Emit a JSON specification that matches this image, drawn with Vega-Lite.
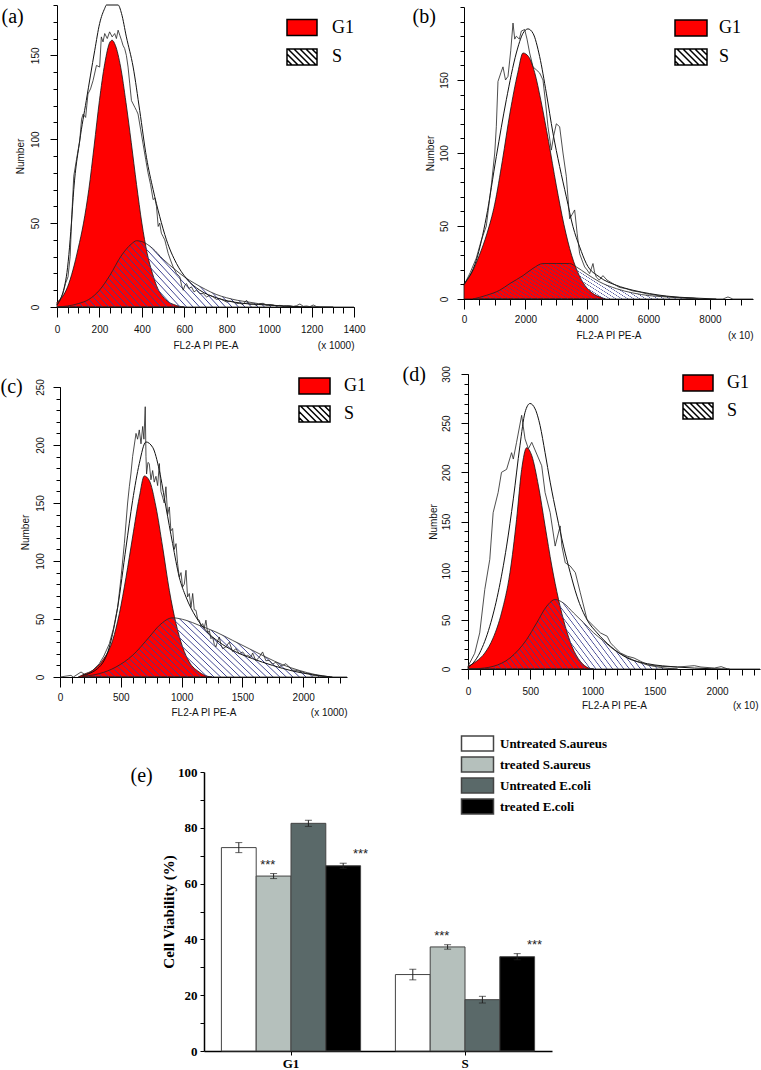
{
"$schema": "https://vega.github.io/schema/vega-lite/v6.json",
"width": 761, "height": 1070,
"autosize": {"type": "none"},
"padding": 0,
"background": "white",
"config": {
 "view": {"stroke": null},
 "axis": {"grid": false, "domainColor": "#000", "tickColor": "#000", "labelColor": "#111", "titleColor": "#111", "labelFont": "Liberation Sans", "labelFontSize": 10, "titleFont": "Liberation Sans", "titleFontSize": 10, "titleFontWeight": "normal", "labelFlush": false, "labelOverlap": false, "domainWidth": 1, "tickWidth": 1},
 "legend": {"labelLimit": 300},
 "area": {"fill": {"gradient": "linear", "x1": 0, "y1": 1, "x2": 1.25, "y2": 0.6875, "stops": [
{"offset":0,"color":"#3c4090"},{"offset":0.003,"color":"#3c409000"},{"offset":0.017,"color":"#3c409000"},
{"offset":0.02,"color":"#3c4090"},{"offset":0.023,"color":"#3c409000"},{"offset":0.037,"color":"#3c409000"},
{"offset":0.04,"color":"#3c4090"},{"offset":0.043,"color":"#3c409000"},{"offset":0.057,"color":"#3c409000"},
{"offset":0.06,"color":"#3c4090"},{"offset":0.063,"color":"#3c409000"},{"offset":0.077,"color":"#3c409000"},
{"offset":0.08,"color":"#3c4090"},{"offset":0.083,"color":"#3c409000"},{"offset":0.097,"color":"#3c409000"},
{"offset":0.1,"color":"#3c4090"},{"offset":0.103,"color":"#3c409000"},{"offset":0.117,"color":"#3c409000"},
{"offset":0.12,"color":"#3c4090"},{"offset":0.123,"color":"#3c409000"},{"offset":0.137,"color":"#3c409000"},
{"offset":0.14,"color":"#3c4090"},{"offset":0.143,"color":"#3c409000"},{"offset":0.157,"color":"#3c409000"},
{"offset":0.16,"color":"#3c4090"},{"offset":0.163,"color":"#3c409000"},{"offset":0.177,"color":"#3c409000"},
{"offset":0.18,"color":"#3c4090"},{"offset":0.183,"color":"#3c409000"},{"offset":0.197,"color":"#3c409000"},
{"offset":0.2,"color":"#3c4090"},{"offset":0.203,"color":"#3c409000"},{"offset":0.217,"color":"#3c409000"},
{"offset":0.22,"color":"#3c4090"},{"offset":0.223,"color":"#3c409000"},{"offset":0.237,"color":"#3c409000"},
{"offset":0.24,"color":"#3c4090"},{"offset":0.243,"color":"#3c409000"},{"offset":0.257,"color":"#3c409000"},
{"offset":0.26,"color":"#3c4090"},{"offset":0.263,"color":"#3c409000"},{"offset":0.277,"color":"#3c409000"},
{"offset":0.28,"color":"#3c4090"},{"offset":0.283,"color":"#3c409000"},{"offset":0.297,"color":"#3c409000"},
{"offset":0.3,"color":"#3c4090"},{"offset":0.303,"color":"#3c409000"},{"offset":0.317,"color":"#3c409000"},
{"offset":0.32,"color":"#3c4090"},{"offset":0.323,"color":"#3c409000"},{"offset":0.337,"color":"#3c409000"},
{"offset":0.34,"color":"#3c4090"},{"offset":0.343,"color":"#3c409000"},{"offset":0.357,"color":"#3c409000"},
{"offset":0.36,"color":"#3c4090"},{"offset":0.363,"color":"#3c409000"},{"offset":0.377,"color":"#3c409000"},
{"offset":0.38,"color":"#3c4090"},{"offset":0.383,"color":"#3c409000"},{"offset":0.397,"color":"#3c409000"},
{"offset":0.4,"color":"#3c4090"},{"offset":0.403,"color":"#3c409000"},{"offset":0.417,"color":"#3c409000"},
{"offset":0.42,"color":"#3c4090"},{"offset":0.423,"color":"#3c409000"},{"offset":0.437,"color":"#3c409000"},
{"offset":0.44,"color":"#3c4090"},{"offset":0.443,"color":"#3c409000"},{"offset":0.457,"color":"#3c409000"},
{"offset":0.46,"color":"#3c4090"},{"offset":0.463,"color":"#3c409000"},{"offset":0.477,"color":"#3c409000"},
{"offset":0.48,"color":"#3c4090"},{"offset":0.483,"color":"#3c409000"},{"offset":0.497,"color":"#3c409000"},
{"offset":0.5,"color":"#3c4090"},{"offset":0.503,"color":"#3c409000"},{"offset":0.517,"color":"#3c409000"},
{"offset":0.52,"color":"#3c4090"},{"offset":0.523,"color":"#3c409000"},{"offset":0.537,"color":"#3c409000"},
{"offset":0.54,"color":"#3c4090"},{"offset":0.543,"color":"#3c409000"},{"offset":0.557,"color":"#3c409000"},
{"offset":0.56,"color":"#3c4090"},{"offset":0.563,"color":"#3c409000"},{"offset":0.577,"color":"#3c409000"},
{"offset":0.58,"color":"#3c4090"},{"offset":0.583,"color":"#3c409000"},{"offset":0.597,"color":"#3c409000"},
{"offset":0.6,"color":"#3c4090"},{"offset":0.603,"color":"#3c409000"},{"offset":0.617,"color":"#3c409000"},
{"offset":0.62,"color":"#3c4090"},{"offset":0.623,"color":"#3c409000"},{"offset":0.637,"color":"#3c409000"},
{"offset":0.64,"color":"#3c4090"},{"offset":0.643,"color":"#3c409000"},{"offset":0.657,"color":"#3c409000"},
{"offset":0.66,"color":"#3c4090"},{"offset":0.663,"color":"#3c409000"},{"offset":0.677,"color":"#3c409000"},
{"offset":0.68,"color":"#3c4090"},{"offset":0.683,"color":"#3c409000"},{"offset":0.697,"color":"#3c409000"},
{"offset":0.7,"color":"#3c4090"},{"offset":0.703,"color":"#3c409000"},{"offset":0.717,"color":"#3c409000"},
{"offset":0.72,"color":"#3c4090"},{"offset":0.723,"color":"#3c409000"},{"offset":0.737,"color":"#3c409000"},
{"offset":0.74,"color":"#3c4090"},{"offset":0.743,"color":"#3c409000"},{"offset":0.757,"color":"#3c409000"},
{"offset":0.76,"color":"#3c4090"},{"offset":0.763,"color":"#3c409000"},{"offset":0.777,"color":"#3c409000"},
{"offset":0.78,"color":"#3c4090"},{"offset":0.783,"color":"#3c409000"},{"offset":0.797,"color":"#3c409000"},
{"offset":0.8,"color":"#3c4090"},{"offset":0.803,"color":"#3c409000"},{"offset":0.817,"color":"#3c409000"},
{"offset":0.82,"color":"#3c4090"},{"offset":0.823,"color":"#3c409000"},{"offset":0.837,"color":"#3c409000"},
{"offset":0.84,"color":"#3c4090"},{"offset":0.843,"color":"#3c409000"},{"offset":0.857,"color":"#3c409000"},
{"offset":0.86,"color":"#3c4090"},{"offset":0.863,"color":"#3c409000"},{"offset":0.877,"color":"#3c409000"},
{"offset":0.88,"color":"#3c4090"},{"offset":0.883,"color":"#3c409000"},{"offset":0.897,"color":"#3c409000"},
{"offset":0.9,"color":"#3c4090"},{"offset":0.903,"color":"#3c409000"},{"offset":0.917,"color":"#3c409000"},
{"offset":0.92,"color":"#3c4090"},{"offset":0.923,"color":"#3c409000"},{"offset":0.937,"color":"#3c409000"},
{"offset":0.94,"color":"#3c4090"},{"offset":0.943,"color":"#3c409000"},{"offset":0.957,"color":"#3c409000"},
{"offset":0.96,"color":"#3c4090"},{"offset":0.963,"color":"#3c409000"},{"offset":0.977,"color":"#3c409000"},
{"offset":0.98,"color":"#3c4090"},{"offset":0.983,"color":"#3c409000"},{"offset":0.997,"color":"#3c409000"},
{"offset":1,"color":"#3c4090"}]}}
},
"datasets": {
"a": [
{"series":"G1","x":0,"y":3},{"series":"G1","x":25,"y":6},{"series":"G1","x":50,"y":12},{"series":"G1","x":75,"y":22},{"series":"G1","x":100,"y":35},{"series":"G1","x":125,"y":50},{"series":"G1","x":150,"y":70},{"series":"G1","x":175,"y":96},{"series":"G1","x":200,"y":123},{"series":"G1","x":225,"y":145},{"series":"G1","x":250,"y":158},{"series":"G1","x":260,"y":159},{"series":"G1","x":275,"y":156},{"series":"G1","x":300,"y":143},{"series":"G1","x":325,"y":122},{"series":"G1","x":350,"y":98},{"series":"G1","x":375,"y":73},{"series":"G1","x":400,"y":50},{"series":"G1","x":425,"y":32},{"series":"G1","x":450,"y":20},{"series":"G1","x":475,"y":11},{"series":"G1","x":500,"y":6},{"series":"G1","x":525,"y":3},{"series":"G1","x":550,"y":1.5},{"series":"G1","x":575,"y":0.5},{"series":"G1","x":600,"y":0},
{"series":"S","x":0,"y":0},{"series":"S","x":50,"y":0.6},{"series":"S","x":100,"y":2},{"series":"S","x":150,"y":4.5},{"series":"S","x":200,"y":10},{"series":"S","x":250,"y":19},{"series":"S","x":300,"y":30},{"series":"S","x":350,"y":37.5},{"series":"S","x":375,"y":39.5},{"series":"S","x":400,"y":39},{"series":"S","x":450,"y":35},{"series":"S","x":500,"y":28.5},{"series":"S","x":550,"y":23},{"series":"S","x":600,"y":18},{"series":"S","x":650,"y":14},{"series":"S","x":700,"y":10.5},{"series":"S","x":750,"y":7.5},{"series":"S","x":800,"y":5.5},{"series":"S","x":850,"y":4},{"series":"S","x":900,"y":3},{"series":"S","x":950,"y":2},{"series":"S","x":1000,"y":1.3},{"series":"S","x":1050,"y":0.7},{"series":"S","x":1100,"y":0.3},{"series":"S","x":1150,"y":0},
{"series":"fit","x":0,"y":1.2},{"series":"fit","x":44,"y":18},{"series":"fit","x":68,"y":50},{"series":"fit","x":79,"y":70},{"series":"fit","x":107,"y":99},{"series":"fit","x":138,"y":123},{"series":"fit","x":178,"y":153},{"series":"fit","x":201,"y":169},{"series":"fit","x":225,"y":178},{"series":"fit","x":233,"y":180},{"series":"fit","x":288,"y":180},{"series":"fit","x":304,"y":175},{"series":"fit","x":327,"y":161},{"series":"fit","x":359,"y":143},{"series":"fit","x":390,"y":117},{"series":"fit","x":422,"y":89},{"series":"fit","x":453,"y":70},{"series":"fit","x":484,"y":54},{"series":"fit","x":516,"y":40},{"series":"fit","x":563,"y":26},{"series":"fit","x":610,"y":17},{"series":"fit","x":673,"y":10},{"series":"fit","x":752,"y":5.5},{"series":"fit","x":830,"y":3},{"series":"fit","x":988,"y":1.2},{"series":"fit","x":1145,"y":0.2},{"series":"fit","x":1302,"y":0},
{"series":"raw","x":0,"y":1.2},{"series":"raw","x":14,"y":4},{"series":"raw","x":28,"y":8},{"series":"raw","x":40,"y":14},{"series":"raw","x":52,"y":18},{"series":"raw","x":62,"y":30},{"series":"raw","x":70,"y":55},{"series":"raw","x":79,"y":78},{"series":"raw","x":92,"y":88},{"series":"raw","x":107,"y":99},{"series":"raw","x":116,"y":112},{"series":"raw","x":123,"y":115},{"series":"raw","x":135,"y":113},{"series":"raw","x":146,"y":127},{"series":"raw","x":158,"y":130},{"series":"raw","x":170,"y":135},{"series":"raw","x":186,"y":144},{"series":"raw","x":201,"y":143},{"series":"raw","x":209,"y":161},{"series":"raw","x":217,"y":158},{"series":"raw","x":225,"y":163},{"series":"raw","x":237,"y":160},{"series":"raw","x":248,"y":164},{"series":"raw","x":260,"y":161},{"series":"raw","x":272,"y":163},{"series":"raw","x":280,"y":160},{"series":"raw","x":288,"y":165},{"series":"raw","x":296,"y":162},{"series":"raw","x":304,"y":159},{"series":"raw","x":311,"y":156},{"series":"raw","x":319,"y":154},{"series":"raw","x":327,"y":150},{"series":"raw","x":335,"y":143},{"series":"raw","x":343,"y":133},{"series":"raw","x":351,"y":123},{"series":"raw","x":359,"y":121},{"series":"raw","x":367,"y":119},{"series":"raw","x":375,"y":117},{"series":"raw","x":382,"y":115},{"series":"raw","x":394,"y":106},{"series":"raw","x":406,"y":97},{"series":"raw","x":418,"y":88},{"series":"raw","x":429,"y":80},{"series":"raw","x":441,"y":73},{"series":"raw","x":453,"y":64},{"series":"raw","x":461,"y":65},{"series":"raw","x":469,"y":60},{"series":"raw","x":477,"y":48},{"series":"raw","x":484,"y":50},{"series":"raw","x":492,"y":44},{"series":"raw","x":500,"y":42},{"series":"raw","x":508,"y":40},{"series":"raw","x":516,"y":36},{"series":"raw","x":524,"y":32},{"series":"raw","x":535,"y":28},{"series":"raw","x":547,"y":24},{"series":"raw","x":563,"y":20},{"series":"raw","x":579,"y":18},{"series":"raw","x":587,"y":13},{"series":"raw","x":595,"y":10},{"series":"raw","x":603,"y":13},{"series":"raw","x":610,"y":14},{"series":"raw","x":622,"y":11},{"series":"raw","x":634,"y":12},{"series":"raw","x":646,"y":9},{"series":"raw","x":657,"y":10},{"series":"raw","x":673,"y":8},{"series":"raw","x":689,"y":8},{"series":"raw","x":705,"y":6},{"series":"raw","x":720,"y":7},{"series":"raw","x":736,"y":6},{"series":"raw","x":752,"y":4.5},{"series":"raw","x":768,"y":5},{"series":"raw","x":783,"y":4},{"series":"raw","x":799,"y":3},{"series":"raw","x":815,"y":3.5},{"series":"raw","x":830,"y":3.2},{"series":"raw","x":846,"y":2},{"series":"raw","x":862,"y":2.2},{"series":"raw","x":877,"y":1.5},{"series":"raw","x":893,"y":4},{"series":"raw","x":909,"y":1.5},{"series":"raw","x":925,"y":1.8},{"series":"raw","x":940,"y":1},{"series":"raw","x":956,"y":2},{"series":"raw","x":972,"y":2.2},{"series":"raw","x":988,"y":1},{"series":"raw","x":1003,"y":1.5},{"series":"raw","x":1019,"y":1.2},{"series":"raw","x":1035,"y":0.5},{"series":"raw","x":1051,"y":1},{"series":"raw","x":1066,"y":0.5},{"series":"raw","x":1082,"y":0.8},{"series":"raw","x":1098,"y":0.8},{"series":"raw","x":1114,"y":0.3},{"series":"raw","x":1129,"y":0.8},{"series":"raw","x":1145,"y":1.8},{"series":"raw","x":1161,"y":0.4},{"series":"raw","x":1177,"y":0.6},{"series":"raw","x":1192,"y":0.2},{"series":"raw","x":1208,"y":1.2},{"series":"raw","x":1224,"y":0.2},{"series":"raw","x":1240,"y":0},{"series":"raw","x":1400,"y":0}
],
"b": [
{"series":"G1","x":0,"y":10},{"series":"G1","x":250,"y":18},{"series":"G1","x":500,"y":30},{"series":"G1","x":750,"y":45},{"series":"G1","x":1000,"y":65},{"series":"G1","x":1250,"y":95},{"series":"G1","x":1500,"y":128},{"series":"G1","x":1750,"y":155},{"series":"G1","x":1919,"y":168.5},{"series":"G1","x":2100,"y":166},{"series":"G1","x":2300,"y":155},{"series":"G1","x":2500,"y":136},{"series":"G1","x":2750,"y":108},{"series":"G1","x":3000,"y":78},{"series":"G1","x":3250,"y":51},{"series":"G1","x":3500,"y":30},{"series":"G1","x":3750,"y":16},{"series":"G1","x":4000,"y":7.5},{"series":"G1","x":4250,"y":3},{"series":"G1","x":4500,"y":0.8},{"series":"G1","x":4600,"y":0},
{"series":"S","x":290,"y":0},{"series":"S","x":726,"y":2.5},{"series":"S","x":1160,"y":6},{"series":"S","x":1485,"y":10.5},{"series":"S","x":1919,"y":16},{"series":"S","x":2244,"y":21},{"series":"S","x":2569,"y":24.3},{"series":"S","x":3000,"y":24.3},{"series":"S","x":3436,"y":24.3},{"series":"S","x":3653,"y":22},{"series":"S","x":3978,"y":17.4},{"series":"S","x":4412,"y":11.7},{"series":"S","x":4954,"y":7.1},{"series":"S","x":5496,"y":4.1},{"series":"S","x":6038,"y":2.3},{"series":"S","x":6580,"y":1.4},{"series":"S","x":7122,"y":0.7},{"series":"S","x":7447,"y":0.2},{"series":"S","x":7600,"y":0},
{"series":"fit","x":0,"y":10.5},{"series":"fit","x":400,"y":26.5},{"series":"fit","x":726,"y":56},{"series":"fit","x":1051,"y":97.6},{"series":"fit","x":1377,"y":136.5},{"series":"fit","x":1702,"y":168.5},{"series":"fit","x":1919,"y":182},{"series":"fit","x":2081,"y":185},{"series":"fit","x":2244,"y":182},{"series":"fit","x":2461,"y":166},{"series":"fit","x":2678,"y":141},{"series":"fit","x":2894,"y":113.6},{"series":"fit","x":3111,"y":90.7},{"series":"fit","x":3328,"y":70},{"series":"fit","x":3545,"y":49.5},{"series":"fit","x":3762,"y":35.7},{"series":"fit","x":3978,"y":24.3},{"series":"fit","x":4412,"y":15},{"series":"fit","x":4954,"y":9.4},{"series":"fit","x":5496,"y":6},{"series":"fit","x":6038,"y":3.7},{"series":"fit","x":6580,"y":2},{"series":"fit","x":7447,"y":0.7},{"series":"fit","x":8206,"y":0},
{"series":"raw","x":0,"y":9.4},{"series":"raw","x":200,"y":18},{"series":"raw","x":400,"y":28},{"series":"raw","x":560,"y":40},{"series":"raw","x":726,"y":50},{"series":"raw","x":900,"y":80},{"series":"raw","x":1000,"y":100},{"series":"raw","x":1051,"y":118},{"series":"raw","x":1105,"y":149},{"series":"raw","x":1200,"y":155},{"series":"raw","x":1268,"y":159},{"series":"raw","x":1350,"y":150},{"series":"raw","x":1431,"y":152.5},{"series":"raw","x":1520,"y":170},{"series":"raw","x":1594,"y":189},{"series":"raw","x":1650,"y":178},{"series":"raw","x":1702,"y":180},{"series":"raw","x":1800,"y":178},{"series":"raw","x":1865,"y":183.5},{"series":"raw","x":1973,"y":184.6},{"series":"raw","x":2050,"y":178},{"series":"raw","x":2136,"y":168.5},{"series":"raw","x":2244,"y":159},{"series":"raw","x":2350,"y":157},{"series":"raw","x":2461,"y":154.8},{"series":"raw","x":2569,"y":150},{"series":"raw","x":2650,"y":135},{"series":"raw","x":2732,"y":118},{"series":"raw","x":2840,"y":102},{"series":"raw","x":2920,"y":112},{"series":"raw","x":3003,"y":120},{"series":"raw","x":3111,"y":118},{"series":"raw","x":3220,"y":100},{"series":"raw","x":3328,"y":84},{"series":"raw","x":3436,"y":55},{"series":"raw","x":3520,"y":58},{"series":"raw","x":3599,"y":61},{"series":"raw","x":3680,"y":45},{"series":"raw","x":3762,"y":31},{"series":"raw","x":3850,"y":26},{"series":"raw","x":3924,"y":22},{"series":"raw","x":4000,"y":20},{"series":"raw","x":4087,"y":17.4},{"series":"raw","x":4195,"y":24.3},{"series":"raw","x":4250,"y":18},{"series":"raw","x":4304,"y":15},{"series":"raw","x":4400,"y":13},{"series":"raw","x":4520,"y":16},{"series":"raw","x":4650,"y":13},{"series":"raw","x":4846,"y":10.5},{"series":"raw","x":5050,"y":8},{"series":"raw","x":5280,"y":7},{"series":"raw","x":5500,"y":5.5},{"series":"raw","x":5713,"y":4.8},{"series":"raw","x":5950,"y":3.5},{"series":"raw","x":6147,"y":3},{"series":"raw","x":6350,"y":2.2},{"series":"raw","x":6580,"y":1.8},{"series":"raw","x":6850,"y":1.2},{"series":"raw","x":7122,"y":0.9},{"series":"raw","x":7447,"y":0.7},{"series":"raw","x":7664,"y":0},{"series":"raw","x":8423,"y":0},{"series":"raw","x":8586,"y":1.4},{"series":"raw","x":8748,"y":0},{"series":"raw","x":9400,"y":0}
],
"c": [
{"series":"G1","x":150,"y":0},{"series":"G1","x":200,"y":2.5},{"series":"G1","x":268,"y":5.7},{"series":"G1","x":351,"y":14.4},{"series":"G1","x":433,"y":31.6},{"series":"G1","x":488,"y":54.6},{"series":"G1","x":543,"y":86},{"series":"G1","x":597,"y":120.7},{"series":"G1","x":652,"y":155},{"series":"G1","x":693,"y":173.3},{"series":"G1","x":734,"y":169.5},{"series":"G1","x":789,"y":146.6},{"series":"G1","x":844,"y":112},{"series":"G1","x":899,"y":74.7},{"series":"G1","x":954,"y":46},{"series":"G1","x":1008,"y":25.9},{"series":"G1","x":1063,"y":13},{"series":"G1","x":1145,"y":4.3},{"series":"G1","x":1214,"y":0.6},{"series":"G1","x":1250,"y":0},
{"series":"S","x":186,"y":0.6},{"series":"S","x":323,"y":2.9},{"series":"S","x":460,"y":8.6},{"series":"S","x":597,"y":18.7},{"series":"S","x":734,"y":34.5},{"series":"S","x":817,"y":44.5},{"series":"S","x":926,"y":51},{"series":"S","x":1036,"y":48.9},{"series":"S","x":1145,"y":44.5},{"series":"S","x":1282,"y":38.8},{"series":"S","x":1419,"y":31.6},{"series":"S","x":1556,"y":24.4},{"series":"S","x":1693,"y":17.2},{"series":"S","x":1830,"y":10.6},{"series":"S","x":1967,"y":5.7},{"series":"S","x":2104,"y":2},{"series":"S","x":2186,"y":0.6},{"series":"S","x":2220,"y":0},
{"series":"fit","x":186,"y":1.4},{"series":"fit","x":323,"y":8.6},{"series":"fit","x":406,"y":25.9},{"series":"fit","x":474,"y":60},{"series":"fit","x":543,"y":112},{"series":"fit","x":597,"y":152},{"series":"fit","x":652,"y":184},{"series":"fit","x":707,"y":202.6},{"series":"fit","x":762,"y":198},{"series":"fit","x":817,"y":178},{"series":"fit","x":871,"y":146.6},{"series":"fit","x":926,"y":115},{"series":"fit","x":981,"y":86},{"series":"fit","x":1036,"y":69},{"series":"fit","x":1118,"y":51.7},{"series":"fit","x":1200,"y":40},{"series":"fit","x":1310,"y":30},{"series":"fit","x":1419,"y":23},{"series":"fit","x":1584,"y":15.8},{"series":"fit","x":1748,"y":10},{"series":"fit","x":1912,"y":5.2},{"series":"fit","x":2077,"y":2},{"series":"fit","x":2241,"y":0},
{"series":"raw","x":0,"y":0},{"series":"raw","x":90,"y":1.4},{"series":"raw","x":110,"y":0},{"series":"raw","x":173,"y":4.3},{"series":"raw","x":214,"y":1.4},{"series":"raw","x":269,"y":5.7},{"series":"raw","x":323,"y":11.5},{"series":"raw","x":360,"y":18},{"series":"raw","x":406,"y":28.7},{"series":"raw","x":440,"y":42},{"series":"raw","x":474,"y":60},{"series":"raw","x":501,"y":85},{"series":"raw","x":529,"y":115},{"series":"raw","x":556,"y":150},{"series":"raw","x":570,"y":164},{"series":"raw","x":583,"y":175},{"series":"raw","x":597,"y":190},{"series":"raw","x":611,"y":200},{"series":"raw","x":625,"y":210},{"series":"raw","x":638,"y":205},{"series":"raw","x":652,"y":213},{"series":"raw","x":666,"y":201},{"series":"raw","x":680,"y":216},{"series":"raw","x":690,"y":205},{"series":"raw","x":701,"y":233},{"series":"raw","x":707,"y":190},{"series":"raw","x":712,"y":175},{"series":"raw","x":723,"y":185},{"series":"raw","x":734,"y":184},{"series":"raw","x":748,"y":170},{"series":"raw","x":762,"y":178},{"series":"raw","x":775,"y":168},{"series":"raw","x":789,"y":173},{"series":"raw","x":803,"y":165},{"series":"raw","x":817,"y":184},{"series":"raw","x":830,"y":160},{"series":"raw","x":844,"y":155},{"series":"raw","x":857,"y":150},{"series":"raw","x":871,"y":164},{"series":"raw","x":885,"y":140},{"series":"raw","x":899,"y":146.6},{"series":"raw","x":912,"y":126},{"series":"raw","x":926,"y":128},{"series":"raw","x":940,"y":110},{"series":"raw","x":954,"y":115},{"series":"raw","x":967,"y":97.7},{"series":"raw","x":981,"y":86},{"series":"raw","x":995,"y":90},{"series":"raw","x":1008,"y":77.6},{"series":"raw","x":1022,"y":80},{"series":"raw","x":1036,"y":92},{"series":"raw","x":1049,"y":69},{"series":"raw","x":1063,"y":72},{"series":"raw","x":1077,"y":60},{"series":"raw","x":1091,"y":72},{"series":"raw","x":1104,"y":58},{"series":"raw","x":1118,"y":57.5},{"series":"raw","x":1132,"y":50},{"series":"raw","x":1145,"y":49},{"series":"raw","x":1159,"y":44},{"series":"raw","x":1173,"y":46},{"series":"raw","x":1186,"y":42},{"series":"raw","x":1200,"y":49},{"series":"raw","x":1214,"y":38},{"series":"raw","x":1228,"y":40},{"series":"raw","x":1241,"y":33},{"series":"raw","x":1255,"y":34.5},{"series":"raw","x":1269,"y":28},{"series":"raw","x":1282,"y":25.9},{"series":"raw","x":1296,"y":31},{"series":"raw","x":1310,"y":34.5},{"series":"raw","x":1323,"y":28},{"series":"raw","x":1337,"y":24.4},{"series":"raw","x":1364,"y":26},{"series":"raw","x":1392,"y":30},{"series":"raw","x":1419,"y":22},{"series":"raw","x":1447,"y":24.4},{"series":"raw","x":1474,"y":20},{"series":"raw","x":1502,"y":21.6},{"series":"raw","x":1529,"y":18},{"series":"raw","x":1543,"y":18.7},{"series":"raw","x":1570,"y":17},{"series":"raw","x":1584,"y":20.7},{"series":"raw","x":1611,"y":14},{"series":"raw","x":1639,"y":17.2},{"series":"raw","x":1666,"y":21.6},{"series":"raw","x":1693,"y":14},{"series":"raw","x":1721,"y":14.4},{"series":"raw","x":1748,"y":11},{"series":"raw","x":1776,"y":12.9},{"series":"raw","x":1803,"y":9},{"series":"raw","x":1830,"y":10},{"series":"raw","x":1858,"y":11.5},{"series":"raw","x":1885,"y":8.6},{"series":"raw","x":1912,"y":6},{"series":"raw","x":1940,"y":5.7},{"series":"raw","x":1967,"y":5},{"series":"raw","x":1995,"y":4.3},{"series":"raw","x":2022,"y":3},{"series":"raw","x":2050,"y":2.9},{"series":"raw","x":2077,"y":1.5},{"series":"raw","x":2104,"y":1.4},{"series":"raw","x":2150,"y":0.5},{"series":"raw","x":2241,"y":0},{"series":"raw","x":2360,"y":0}
],
"d": [
{"series":"G1","x":0,"y":2.7},{"series":"G1","x":67,"y":7.8},{"series":"G1","x":135,"y":16.3},{"series":"G1","x":202,"y":31.6},{"series":"G1","x":269,"y":57},{"series":"G1","x":337,"y":98},{"series":"G1","x":390,"y":152},{"series":"G1","x":431,"y":203},{"series":"G1","x":471,"y":225},{"series":"G1","x":512,"y":217},{"series":"G1","x":566,"y":186},{"series":"G1","x":619,"y":145.5},{"series":"G1","x":673,"y":104.7},{"series":"G1","x":727,"y":70.7},{"series":"G1","x":781,"y":43.5},{"series":"G1","x":835,"y":23},{"series":"G1","x":902,"y":7.8},{"series":"G1","x":970,"y":1},{"series":"G1","x":1010,"y":0},
{"series":"S","x":0,"y":0},{"series":"S","x":67,"y":0.3},{"series":"S","x":202,"y":2.7},{"series":"S","x":337,"y":11.2},{"series":"S","x":471,"y":30},{"series":"S","x":552,"y":47},{"series":"S","x":633,"y":64},{"series":"S","x":700,"y":70.7},{"series":"S","x":767,"y":67},{"series":"S","x":848,"y":57},{"series":"S","x":929,"y":47},{"series":"S","x":1010,"y":36.7},{"series":"S","x":1091,"y":28.2},{"series":"S","x":1171,"y":19.7},{"series":"S","x":1279,"y":12},{"series":"S","x":1387,"y":6.1},{"series":"S","x":1495,"y":2.7},{"series":"S","x":1602,"y":0.7},{"series":"S","x":1683,"y":0},
{"series":"fit","x":0,"y":1},{"series":"fit","x":94,"y":16.3},{"series":"fit","x":175,"y":43.5},{"series":"fit","x":242,"y":77.5},{"series":"fit","x":310,"y":125},{"series":"fit","x":364,"y":173},{"series":"fit","x":417,"y":227},{"series":"fit","x":458,"y":261},{"series":"fit","x":498,"y":270},{"series":"fit","x":539,"y":264.5},{"series":"fit","x":579,"y":247.5},{"series":"fit","x":619,"y":220},{"series":"fit","x":660,"y":190},{"series":"fit","x":714,"y":155.7},{"series":"fit","x":767,"y":125},{"series":"fit","x":821,"y":98},{"series":"fit","x":875,"y":74},{"series":"fit","x":956,"y":50},{"series":"fit","x":1037,"y":36.7},{"series":"fit","x":1145,"y":23},{"series":"fit","x":1279,"y":11.2},{"series":"fit","x":1441,"y":5.4},{"series":"fit","x":1683,"y":2},{"series":"fit","x":1952,"y":0.3},{"series":"fit","x":2100,"y":0},
{"series":"raw","x":0,"y":2.7},{"series":"raw","x":54,"y":16},{"series":"raw","x":94,"y":36.7},{"series":"raw","x":135,"y":81},{"series":"raw","x":175,"y":111.5},{"series":"raw","x":202,"y":159},{"series":"raw","x":242,"y":179.5},{"series":"raw","x":269,"y":200},{"series":"raw","x":310,"y":203},{"series":"raw","x":350,"y":220},{"series":"raw","x":364,"y":213.5},{"series":"raw","x":390,"y":230.5},{"series":"raw","x":431,"y":258},{"series":"raw","x":458,"y":234},{"series":"raw","x":485,"y":224},{"series":"raw","x":512,"y":230.5},{"series":"raw","x":552,"y":218.6},{"series":"raw","x":592,"y":206.7},{"series":"raw","x":619,"y":179.5},{"series":"raw","x":660,"y":159},{"series":"raw","x":700,"y":125},{"series":"raw","x":740,"y":145.5},{"series":"raw","x":754,"y":125},{"series":"raw","x":781,"y":108},{"series":"raw","x":821,"y":104.7},{"series":"raw","x":862,"y":98},{"series":"raw","x":902,"y":77.5},{"series":"raw","x":956,"y":50.3},{"series":"raw","x":1010,"y":43.5},{"series":"raw","x":1064,"y":36.7},{"series":"raw","x":1118,"y":33.3},{"series":"raw","x":1145,"y":26.5},{"series":"raw","x":1171,"y":23},{"series":"raw","x":1225,"y":16.3},{"series":"raw","x":1279,"y":13},{"series":"raw","x":1333,"y":11.2},{"series":"raw","x":1387,"y":7.8},{"series":"raw","x":1441,"y":4.4},{"series":"raw","x":1548,"y":2.7},{"series":"raw","x":1683,"y":2},{"series":"raw","x":1818,"y":3.4},{"series":"raw","x":1871,"y":2},{"series":"raw","x":1979,"y":1},{"series":"raw","x":2033,"y":2.4},{"series":"raw","x":2087,"y":0},{"series":"raw","x":2345,"y":0}
],
"e": [
{"phase": "G1", "group": "Untreated S.aureus", "value": 72.9, "lo": 71.1, "hi": 74.7, "star": ""},
{"phase": "G1", "group": "treated S.aureus", "value": 62.7, "lo": 61.8, "hi": 63.6, "star": "***"},
{"phase": "G1", "group": "Untreated E.coli", "value": 81.6, "lo": 80.5, "hi": 82.7, "star": ""},
{"phase": "G1", "group": "treated E.coli", "value": 66.4, "lo": 65.5, "hi": 67.3, "star": "***"},
{"phase": "S", "group": "Untreated S.aureus", "value": 27.4, "lo": 25.5, "hi": 29.3, "star": ""},
{"phase": "S", "group": "treated S.aureus", "value": 37.3, "lo": 36.5, "hi": 38.1, "star": "***"},
{"phase": "S", "group": "Untreated E.coli", "value": 18.4, "lo": 17.2, "hi": 19.6, "star": ""},
{"phase": "S", "group": "treated E.coli", "value": 33.8, "lo": 32.7, "hi": 34.9, "star": "***"}
]
},
"resolve": {"scale": {"x": "independent", "y": "independent", "fill": "independent", "shape": "independent", "stroke": "independent", "xOffset": "independent"}, "axis": {"x": "independent", "y": "independent"}, "legend": {"fill": "independent", "shape": "independent", "stroke": "independent"}},
"layer": [
{"data": {"name": "a"}, "transform": [{"filter": "datum.series === 'G1'"}],
 "mark": {"type": "area", "interpolate": "monotone", "fill": "#ff0000", "stroke": "#111", "strokeWidth": 0.8, "opacity": 1},
 "encoding": {
  "x": {"field": "x", "type": "quantitative", "scale": {"domain": [0, 1400], "range": [57, 354], "nice": false, "zero": false},
    "axis": {"orient": "bottom", "offset": -763, "values": [0,200,400,600,800,1000,1200,1400], "format": "d", "tickSize": 10, "labelPadding": 7, "labelOverlap": false, "title": "FL2-A PI PE-A", "titleY": 38, "titleBaseline": "middle"}},
  "y": {"field": "y", "type": "quantitative", "stack": null, "scale": {"domain": [0, 180], "range": [307, 5], "nice": false, "zero": false},
    "axis": {"orient": "left", "offset": -57, "values": [0,50,100,150], "format": "d", "tickSize": 7, "labelAngle": -90, "labelAlign": "center", "labelBaseline": "bottom", "labelPadding": 9.5, "labelOverlap": false, "title": "Number", "titleX": -37, "titleBaseline": "middle"}}
 }},
{"data": {"name": "a"}, "transform": [{"filter": "datum.series === 'S'"}],
 "mark": {"type": "area", "interpolate": "monotone", "stroke": "#222", "strokeWidth": 0.8, "opacity": 1},
 "encoding": {
  "x": {"field": "x", "type": "quantitative", "scale": {"domain": [0, 1400], "range": [57, 354], "nice": false, "zero": false},
    "axis": {"orient": "bottom", "offset": -763, "values": [0,50,100,150,200,250,300,350,400,450,500,550,600,650,700,750,800,850,900,950,1000,1050,1100,1150,1200,1250,1300,1350,1400], "tickSize": 6, "labels": false, "domain": false, "title": null}},
  "y": {"field": "y", "type": "quantitative", "stack": null, "scale": {"domain": [0, 180], "range": [307, 5], "nice": false, "zero": false},
    "axis": {"orient": "left", "offset": -57, "values": [0,10,20,30,40,50,60,70,80,90,100,110,120,130,140,150,160,170,180], "tickSize": 4, "labels": false, "domain": false, "title": null}}
 }},
{"data": {"name": "a"}, "transform": [{"filter": "datum.series === 'fit'"}],
 "mark": {"type": "line", "interpolate": "monotone", "color": "#111", "strokeWidth": 1},
 "encoding": {
  "x": {"field": "x", "type": "quantitative", "scale": {"domain": [0, 1400], "range": [57, 354], "nice": false, "zero": false}, "axis": null},
  "y": {"field": "y", "type": "quantitative", "scale": {"domain": [0, 180], "range": [307, 5], "nice": false, "zero": false}, "axis": null}
 }},
{"data": {"name": "a"}, "transform": [{"filter": "datum.series === 'raw'"}],
 "mark": {"type": "line", "color": "#222", "strokeWidth": 0.8},
 "encoding": {
  "x": {"field": "x", "type": "quantitative", "scale": {"domain": [0, 1400], "range": [57, 354], "nice": false, "zero": false},
    "axis": {"orient": "bottom", "offset": -763, "title": "(x 1000)", "labels": false, "ticks": false, "domain": false, "titleX": 354, "titleY": 38, "titleAlign": "right", "titleBaseline": "middle"}},
  "y": {"field": "y", "type": "quantitative", "scale": {"domain": [0, 180], "range": [307, 5], "nice": false, "zero": false},
    "axis": {"orient": "left", "offset": -57, "title": "(a)", "labels": false, "ticks": false, "domain": false, "titleAngle": 0, "titleX": -56, "titleY": 22.5, "titleAlign": "left", "titleBaseline": "alphabetic", "titleFont": "Liberation Serif", "titleFontSize": 20, "titleColor": "#000"}}
 }},
{"data": {"name": "a"}, "transform": [{"filter": "false"}],
 "mark": {"type": "point", "filled": true, "opacity": 1, "strokeWidth": 1.5},
 "encoding": {
  "fill": {"field": "series", "type": "nominal", "scale": {"domain": ["G1", "S"], "range": ["#ff0000", "#ffffff"]},
    "legend": {"orient": "none", "legendX": 293, "legendY": 18.5, "title": null, "symbolSize": 256, "symbolStrokeWidth": 1.5, "labelFont": "Liberation Serif", "labelFontSize": 18, "labelColor": "#000", "labelOffset": 21, "rowPadding": 7.5}},
  "stroke": {"field": "series", "type": "nominal", "scale": {"domain": ["G1", "S"], "range": ["#000000", "#000000"]},
    "legend": {"orient": "none", "legendX": 293, "legendY": 18.5, "title": null, "symbolSize": 256, "symbolStrokeWidth": 1.5, "labelFont": "Liberation Serif", "labelFontSize": 18, "labelColor": "#000", "labelOffset": 21, "rowPadding": 7.5}},
  "shape": {"field": "series", "type": "nominal", "scale": {"domain": ["G1", "S"], "range": ["M-1.875,-1H1.875V1H-1.875Z", "M-1.875,-1H1.875V1H-1.875ZM-1.875,0.375L-1.25,1M-1.875,-0.375L-0.5,1M-1.75,-1L0.25,1M-1,-1L1,1M-0.25,-1L1.75,1M0.5,-1L1.875,0.375M1.25,-1L1.875,-0.375"]},
    "legend": {"orient": "none", "legendX": 293, "legendY": 18.5, "title": null, "symbolSize": 256, "symbolStrokeWidth": 1.5, "labelFont": "Liberation Serif", "labelFontSize": 18, "labelColor": "#000", "labelOffset": 21, "rowPadding": 7.5}}
 }},

{"data": {"name": "b"}, "transform": [{"filter": "datum.series === 'G1'"}],
 "mark": {"type": "area", "interpolate": "monotone", "fill": "#ff0000", "stroke": "#111", "strokeWidth": 0.8, "opacity": 1},
 "encoding": {
  "x": {"field": "x", "type": "quantitative", "scale": {"domain": [0, 9400], "range": [464, 753], "nice": false, "zero": false},
    "axis": {"orient": "bottom", "offset": -771, "values": [0,2000,4000,6000,8000], "format": "d", "tickSize": 10, "labelPadding": 5, "labelOverlap": false, "title": "FL2-A PI PE-A", "titleY": 36, "titleBaseline": "middle"}},
  "y": {"field": "y", "type": "quantitative", "stack": null, "scale": {"domain": [0, 200], "range": [299, 7], "nice": false, "zero": false},
    "axis": {"orient": "left", "offset": -464, "values": [0,50,100,150], "format": "d", "tickSize": 7, "labelAngle": -90, "labelAlign": "center", "labelBaseline": "bottom", "labelPadding": 8, "labelOverlap": false, "title": "Number", "titleX": -34, "titleBaseline": "middle"}}
 }},
{"data": {"name": "b"}, "transform": [{"filter": "datum.series === 'S'"}],
 "mark": {"type": "area", "interpolate": "monotone", "stroke": "#222", "strokeWidth": 0.8, "opacity": 1},
 "encoding": {
  "x": {"field": "x", "type": "quantitative", "scale": {"domain": [0, 9400], "range": [464, 753], "nice": false, "zero": false},
    "axis": {"orient": "bottom", "offset": -771, "values": [0,500,1000,1500,2000,2500,3000,3500,4000,4500,5000,5500,6000,6500,7000,7500,8000,8500,9000], "tickSize": 6, "labels": false, "domain": false, "title": null}},
  "y": {"field": "y", "type": "quantitative", "stack": null, "scale": {"domain": [0, 200], "range": [299, 7], "nice": false, "zero": false},
    "axis": {"orient": "left", "offset": -464, "values": [0,10,20,30,40,50,60,70,80,90,100,110,120,130,140,150,160,170,180,190,200], "tickSize": 4, "labels": false, "domain": false, "title": null}}
 }},
{"data": {"name": "b"}, "transform": [{"filter": "datum.series === 'fit'"}],
 "mark": {"type": "line", "interpolate": "monotone", "color": "#111", "strokeWidth": 1},
 "encoding": {
  "x": {"field": "x", "type": "quantitative", "scale": {"domain": [0, 9400], "range": [464, 753], "nice": false, "zero": false}, "axis": null},
  "y": {"field": "y", "type": "quantitative", "scale": {"domain": [0, 200], "range": [299, 7], "nice": false, "zero": false}, "axis": null}
 }},
{"data": {"name": "b"}, "transform": [{"filter": "datum.series === 'raw'"}],
 "mark": {"type": "line", "color": "#222", "strokeWidth": 0.8},
 "encoding": {
  "x": {"field": "x", "type": "quantitative", "scale": {"domain": [0, 9400], "range": [464, 753], "nice": false, "zero": false},
    "axis": {"orient": "bottom", "offset": -771, "title": "(x 10)", "labels": false, "ticks": false, "domain": false, "titleX": 753, "titleY": 36, "titleAlign": "right", "titleBaseline": "middle"}},
  "y": {"field": "y", "type": "quantitative", "scale": {"domain": [0, 200], "range": [299, 7], "nice": false, "zero": false},
    "axis": {"orient": "left", "offset": -464, "title": "(b)", "labels": false, "ticks": false, "domain": false, "titleAngle": 0, "titleX": -52, "titleY": 22.5, "titleAlign": "left", "titleBaseline": "alphabetic", "titleFont": "Liberation Serif", "titleFontSize": 20, "titleColor": "#000"}}
 }},
{"data": {"name": "b"}, "transform": [{"filter": "false"}],
 "mark": {"type": "point", "filled": true, "opacity": 1, "strokeWidth": 1.5},
 "encoding": {
  "fill": {"field": "series", "type": "nominal", "scale": {"domain": ["G1", "S"], "range": ["#ff0000", "#ffffff"]},
    "legend": {"orient": "none", "legendX": 682, "legendY": 19, "title": null, "symbolSize": 256, "symbolStrokeWidth": 1.5, "labelFont": "Liberation Serif", "labelFontSize": 18, "labelColor": "#000", "labelOffset": 19, "rowPadding": 7}},
  "stroke": {"field": "series", "type": "nominal", "scale": {"domain": ["G1", "S"], "range": ["#000000", "#000000"]},
    "legend": {"orient": "none", "legendX": 682, "legendY": 19, "title": null, "symbolSize": 256, "symbolStrokeWidth": 1.5, "labelFont": "Liberation Serif", "labelFontSize": 18, "labelColor": "#000", "labelOffset": 19, "rowPadding": 7}},
  "shape": {"field": "series", "type": "nominal", "scale": {"domain": ["G1", "S"], "range": ["M-2,-1H2V1H-2Z", "M-2,-1H2V1H-2ZM-2,0.5L-1.5,1M-2,-0.25L-0.75,1M-1.75,-1L0.25,1M-1,-1L1,1M-0.25,-1L1.75,1M0.5,-1L2,0.5M1.25,-1L2,-0.25"]},
    "legend": {"orient": "none", "legendX": 682, "legendY": 19, "title": null, "symbolSize": 256, "symbolStrokeWidth": 1.5, "labelFont": "Liberation Serif", "labelFontSize": 18, "labelColor": "#000", "labelOffset": 19, "rowPadding": 7}}
 }},

{"data": {"name": "c"}, "transform": [{"filter": "datum.series === 'G1'"}],
 "mark": {"type": "area", "interpolate": "monotone", "fill": "#ff0000", "stroke": "#111", "strokeWidth": 0.8, "opacity": 1},
 "encoding": {
  "x": {"field": "x", "type": "quantitative", "scale": {"domain": [0, 2360], "range": [60, 347], "nice": false, "zero": false},
    "axis": {"orient": "bottom", "offset": -393, "values": [0,500,1000,1500,2000], "format": "d", "tickSize": 10, "labelPadding": 5, "labelOverlap": false, "title": "FL2-A PI PE-A", "titleY": 35, "titleBaseline": "middle"}},
  "y": {"field": "y", "type": "quantitative", "stack": null, "scale": {"domain": [0, 250], "range": [677, 387], "nice": false, "zero": false},
    "axis": {"orient": "left", "offset": -60, "values": [0,50,100,150,200,250], "format": "d", "tickSize": 7, "labelAngle": -90, "labelAlign": "center", "labelBaseline": "bottom", "labelPadding": 8, "labelOverlap": false, "title": "Number", "titleX": -35, "titleBaseline": "middle"}}
 }},
{"data": {"name": "c"}, "transform": [{"filter": "datum.series === 'S'"}],
 "mark": {"type": "area", "interpolate": "monotone", "stroke": "#222", "strokeWidth": 0.8, "opacity": 1},
 "encoding": {
  "x": {"field": "x", "type": "quantitative", "scale": {"domain": [0, 2360], "range": [60, 347], "nice": false, "zero": false},
    "axis": {"orient": "bottom", "offset": -393, "values": [0,100,200,300,400,500,600,700,800,900,1000,1100,1200,1300,1400,1500,1600,1700,1800,1900,2000,2100,2200,2300], "tickSize": 6, "labels": false, "domain": false, "title": null}},
  "y": {"field": "y", "type": "quantitative", "stack": null, "scale": {"domain": [0, 250], "range": [677, 387], "nice": false, "zero": false},
    "axis": {"orient": "left", "offset": -60, "values": [0,10,20,30,40,50,60,70,80,90,100,110,120,130,140,150,160,170,180,190,200,210,220,230,240,250], "tickSize": 4, "labels": false, "domain": false, "title": null}}
 }},
{"data": {"name": "c"}, "transform": [{"filter": "datum.series === 'fit'"}],
 "mark": {"type": "line", "interpolate": "monotone", "color": "#111", "strokeWidth": 1},
 "encoding": {
  "x": {"field": "x", "type": "quantitative", "scale": {"domain": [0, 2360], "range": [60, 347], "nice": false, "zero": false}, "axis": null},
  "y": {"field": "y", "type": "quantitative", "scale": {"domain": [0, 250], "range": [677, 387], "nice": false, "zero": false}, "axis": null}
 }},
{"data": {"name": "c"}, "transform": [{"filter": "datum.series === 'raw'"}],
 "mark": {"type": "line", "color": "#222", "strokeWidth": 0.8},
 "encoding": {
  "x": {"field": "x", "type": "quantitative", "scale": {"domain": [0, 2360], "range": [60, 347], "nice": false, "zero": false},
    "axis": {"orient": "bottom", "offset": -393, "title": "(x 1000)", "labels": false, "ticks": false, "domain": false, "titleX": 347, "titleY": 35, "titleAlign": "right", "titleBaseline": "middle"}},
  "y": {"field": "y", "type": "quantitative", "scale": {"domain": [0, 250], "range": [677, 387], "nice": false, "zero": false},
    "axis": {"orient": "left", "offset": -60, "title": "(c)", "labels": false, "ticks": false, "domain": false, "titleAngle": 0, "titleX": -60, "titleY": 392.5, "titleAlign": "left", "titleBaseline": "alphabetic", "titleFont": "Liberation Serif", "titleFontSize": 20, "titleColor": "#000"}}
 }},
{"data": {"name": "c"}, "transform": [{"filter": "false"}],
 "mark": {"type": "point", "filled": true, "opacity": 1, "strokeWidth": 1.5},
 "encoding": {
  "fill": {"field": "series", "type": "nominal", "scale": {"domain": ["G1", "S"], "range": ["#ff0000", "#ffffff"]},
    "legend": {"orient": "none", "legendX": 305.5, "legendY": 377, "title": null, "symbolSize": 256, "symbolStrokeWidth": 1.5, "labelFont": "Liberation Serif", "labelFontSize": 18, "labelColor": "#000", "labelOffset": 20.5, "rowPadding": 6}},
  "stroke": {"field": "series", "type": "nominal", "scale": {"domain": ["G1", "S"], "range": ["#000000", "#000000"]},
    "legend": {"orient": "none", "legendX": 305.5, "legendY": 377, "title": null, "symbolSize": 256, "symbolStrokeWidth": 1.5, "labelFont": "Liberation Serif", "labelFontSize": 18, "labelColor": "#000", "labelOffset": 20.5, "rowPadding": 6}},
  "shape": {"field": "series", "type": "nominal", "scale": {"domain": ["G1", "S"], "range": ["M-1.94,-1H1.94V1H-1.94Z", "M-1.94,-1H1.94V1H-1.94ZM-1.94,0.44L-1.38,1M-1.94,-0.31L-0.63,1M-1.75,-1L0.25,1M-1,-1L1,1M-0.25,-1L1.75,1M0.5,-1L1.94,0.44M1.25,-1L1.94,-0.31"]},
    "legend": {"orient": "none", "legendX": 305.5, "legendY": 377, "title": null, "symbolSize": 256, "symbolStrokeWidth": 1.5, "labelFont": "Liberation Serif", "labelFontSize": 18, "labelColor": "#000", "labelOffset": 20.5, "rowPadding": 6}}
 }},

{"data": {"name": "d"}, "transform": [{"filter": "datum.series === 'G1'"}],
 "mark": {"type": "area", "interpolate": "monotone", "fill": "#ff0000", "stroke": "#111", "strokeWidth": 0.8, "opacity": 1},
 "encoding": {
  "x": {"field": "x", "type": "quantitative", "scale": {"domain": [0, 2345], "range": [468, 760], "nice": false, "zero": false},
    "axis": {"orient": "bottom", "offset": -401, "values": [0,500,1000,1500,2000], "format": "d", "tickSize": 10, "labelPadding": 7, "labelOverlap": false, "title": "FL2-A PI PE-A", "titleY": 36, "titleBaseline": "middle"}},
  "y": {"field": "y", "type": "quantitative", "stack": null, "scale": {"domain": [0, 300], "range": [669, 374], "nice": false, "zero": false},
    "axis": {"orient": "left", "offset": -468, "values": [0,50,100,150,200,250,300], "format": "d", "tickSize": 7, "labelAngle": -90, "labelAlign": "center", "labelBaseline": "bottom", "labelPadding": 10, "labelOverlap": false, "title": "Number", "titleX": -35, "titleBaseline": "middle"}}
 }},
{"data": {"name": "d"}, "transform": [{"filter": "datum.series === 'S'"}],
 "mark": {"type": "area", "interpolate": "monotone", "stroke": "#222", "strokeWidth": 0.8, "opacity": 1},
 "encoding": {
  "x": {"field": "x", "type": "quantitative", "scale": {"domain": [0, 2345], "range": [468, 760], "nice": false, "zero": false},
    "axis": {"orient": "bottom", "offset": -401, "values": [0,100,200,300,400,500,600,700,800,900,1000,1100,1200,1300,1400,1500,1600,1700,1800,1900,2000,2100,2200,2300], "tickSize": 6, "labels": false, "domain": false, "title": null}},
  "y": {"field": "y", "type": "quantitative", "stack": null, "scale": {"domain": [0, 300], "range": [669, 374], "nice": false, "zero": false},
    "axis": {"orient": "left", "offset": -468, "values": [0,10,20,30,40,50,60,70,80,90,100,110,120,130,140,150,160,170,180,190,200,210,220,230,240,250,260,270,280,290,300], "tickSize": 4, "labels": false, "domain": false, "title": null}}
 }},
{"data": {"name": "d"}, "transform": [{"filter": "datum.series === 'fit'"}],
 "mark": {"type": "line", "interpolate": "monotone", "color": "#111", "strokeWidth": 1},
 "encoding": {
  "x": {"field": "x", "type": "quantitative", "scale": {"domain": [0, 2345], "range": [468, 760], "nice": false, "zero": false}, "axis": null},
  "y": {"field": "y", "type": "quantitative", "scale": {"domain": [0, 300], "range": [669, 374], "nice": false, "zero": false}, "axis": null}
 }},
{"data": {"name": "d"}, "transform": [{"filter": "datum.series === 'raw'"}],
 "mark": {"type": "line", "color": "#222", "strokeWidth": 0.8},
 "encoding": {
  "x": {"field": "x", "type": "quantitative", "scale": {"domain": [0, 2345], "range": [468, 760], "nice": false, "zero": false},
    "axis": {"orient": "bottom", "offset": -401, "title": "(x 10)", "labels": false, "ticks": false, "domain": false, "titleX": 758, "titleY": 36, "titleAlign": "right", "titleBaseline": "middle"}},
  "y": {"field": "y", "type": "quantitative", "scale": {"domain": [0, 300], "range": [669, 374], "nice": false, "zero": false},
    "axis": {"orient": "left", "offset": -468, "title": "(d)", "labels": false, "ticks": false, "domain": false, "titleAngle": 0, "titleX": -66, "titleY": 380.5, "titleAlign": "left", "titleBaseline": "alphabetic", "titleFont": "Liberation Serif", "titleFontSize": 20, "titleColor": "#000"}}
 }},
{"data": {"name": "d"}, "transform": [{"filter": "false"}],
 "mark": {"type": "point", "filled": true, "opacity": 1, "strokeWidth": 1.5},
 "encoding": {
  "fill": {"field": "series", "type": "nominal", "scale": {"domain": ["G1", "S"], "range": ["#ff0000", "#ffffff"]},
    "legend": {"orient": "none", "legendX": 689, "legendY": 374, "title": null, "symbolSize": 256, "symbolStrokeWidth": 1.5, "labelFont": "Liberation Serif", "labelFontSize": 18, "labelColor": "#000", "labelOffset": 20, "rowPadding": 6}},
  "stroke": {"field": "series", "type": "nominal", "scale": {"domain": ["G1", "S"], "range": ["#000000", "#000000"]},
    "legend": {"orient": "none", "legendX": 689, "legendY": 374, "title": null, "symbolSize": 256, "symbolStrokeWidth": 1.5, "labelFont": "Liberation Serif", "labelFontSize": 18, "labelColor": "#000", "labelOffset": 20, "rowPadding": 6}},
  "shape": {"field": "series", "type": "nominal", "scale": {"domain": ["G1", "S"], "range": ["M-1.875,-1H1.875V1H-1.875Z", "M-1.875,-1H1.875V1H-1.875ZM-1.875,0.375L-1.25,1M-1.875,-0.375L-0.5,1M-1.75,-1L0.25,1M-1,-1L1,1M-0.25,-1L1.75,1M0.5,-1L1.875,0.375M1.25,-1L1.875,-0.375"]},
    "legend": {"orient": "none", "legendX": 689, "legendY": 374, "title": null, "symbolSize": 256, "symbolStrokeWidth": 1.5, "labelFont": "Liberation Serif", "labelFontSize": 18, "labelColor": "#000", "labelOffset": 20, "rowPadding": 6}}
 }},

{"data": {"name": "e"},
 "mark": {"type": "bar", "stroke": "#444", "strokeWidth": 1, "opacity": 1},
 "encoding": {
  "x": {"field": "phase", "type": "nominal", "scale": {"domain": ["G1", "S"], "range": [204, 552], "paddingInner": 0.2, "paddingOuter": 0.1},
    "axis": {"orient": "bottom", "offset": -19, "title": null, "labelAngle": 0, "labelFont": "Liberation Serif", "labelFontWeight": "bold", "labelFontSize": 13, "labelColor": "#000", "tickSize": 4, "labelPadding": 2, "domainWidth": 1.5}},
  "xOffset": {"field": "group", "type": "nominal", "scale": {"domain": ["Untreated S.aureus", "treated S.aureus", "Untreated E.coli", "treated E.coli"], "paddingInner": 0, "paddingOuter": 0}},
  "y": {"field": "value", "type": "quantitative", "scale": {"domain": [0, 100], "range": [1051, 772], "nice": false, "zero": false},
    "axis": {"orient": "left", "offset": -204, "values": [0,20,40,60,80,100], "tickSize": 4, "labelPadding": 3, "labelOverlap": false, "labelFont": "Liberation Serif", "labelFontWeight": "bold", "labelFontSize": 13, "labelColor": "#000", "title": "Cell Viability (%)", "titleFont": "Liberation Serif", "titleFontWeight": "bold", "titleFontSize": 15, "titleColor": "#000", "titleX": -36, "titleBaseline": "middle", "domainWidth": 1.5}},
  "fill": {"field": "group", "type": "nominal", "scale": {"domain": ["Untreated S.aureus", "treated S.aureus", "Untreated E.coli", "treated E.coli"], "range": ["#ffffff", "#b5c0bc", "#5a6969", "#000000"]},
    "legend": {"orient": "none", "legendX": 471, "legendY": 737, "title": null, "symbolType": "M-3.2,-1.5H3.2V1.5H-3.2Z", "symbolSize": 100, "labelFont": "Liberation Serif", "labelFontWeight": "bold", "labelFontSize": 13, "labelColor": "#000", "labelOffset": 16, "rowPadding": 0, "encode": {"symbols": {"stroke": {"value": "#333"}, "strokeWidth": {"value": 1}, "opacity": {"value": 1}}}}}
 }},
{"data": {"name": "e"},
 "mark": {"type": "rule", "color": "#222", "strokeWidth": 1},
 "encoding": {
  "x": {"field": "phase", "type": "nominal", "scale": {"domain": ["G1", "S"], "range": [204, 552], "paddingInner": 0.2, "paddingOuter": 0.1}, "axis": null},
  "xOffset": {"field": "group", "type": "nominal", "scale": {"domain": ["Untreated S.aureus", "treated S.aureus", "Untreated E.coli", "treated E.coli"], "paddingInner": 0, "paddingOuter": 0}},
  "y": {"field": "lo", "type": "quantitative", "scale": {"domain": [0, 100], "range": [1051, 772], "nice": false, "zero": false},
    "axis": {"orient": "left", "offset": -204, "values": [10,30,50,70,90], "tickSize": 4, "labels": false, "domain": false, "title": null}},
  "y2": {"field": "hi"}
 }},
{"data": {"name": "e"},
 "mark": {"type": "tick", "color": "#222", "thickness": 1, "size": 7},
 "encoding": {
  "x": {"field": "phase", "type": "nominal", "scale": {"domain": ["G1", "S"], "range": [204, 552], "paddingInner": 0.2, "paddingOuter": 0.1}, "axis": null},
  "xOffset": {"field": "group", "type": "nominal", "scale": {"domain": ["Untreated S.aureus", "treated S.aureus", "Untreated E.coli", "treated E.coli"], "paddingInner": 0, "paddingOuter": 0}},
  "y": {"field": "lo", "type": "quantitative", "scale": {"domain": [0, 100], "range": [1051, 772], "nice": false, "zero": false}, "axis": null}
 }},
{"data": {"name": "e"},
 "mark": {"type": "tick", "color": "#222", "thickness": 1, "size": 7},
 "encoding": {
  "x": {"field": "phase", "type": "nominal", "scale": {"domain": ["G1", "S"], "range": [204, 552], "paddingInner": 0.2, "paddingOuter": 0.1}, "axis": null},
  "xOffset": {"field": "group", "type": "nominal", "scale": {"domain": ["Untreated S.aureus", "treated S.aureus", "Untreated E.coli", "treated E.coli"], "paddingInner": 0, "paddingOuter": 0}},
  "y": {"field": "hi", "type": "quantitative", "scale": {"domain": [0, 100], "range": [1051, 772], "nice": false, "zero": false}, "axis": null}
 }},
{"data": {"name": "e"}, "transform": [{"filter": "datum.star !== ''"}],
 "mark": {"type": "text", "font": "Liberation Sans", "fontSize": 13, "baseline": "alphabetic", "dy": -5, "color": "#222"},
 "encoding": {
  "x": {"field": "phase", "type": "nominal", "scale": {"domain": ["G1", "S"], "range": [204, 552], "paddingInner": 0.2, "paddingOuter": 0.1}, "axis": null},
  "xOffset": {"field": "group", "type": "nominal", "scale": {"domain": ["Untreated S.aureus", "treated S.aureus", "Untreated E.coli", "treated E.coli"], "paddingInner": 0, "paddingOuter": 0}},
  "y": {"field": "hi", "type": "quantitative", "scale": {"domain": [0, 100], "range": [1051, 772], "nice": false, "zero": false},
    "axis": {"orient": "left", "offset": -204, "title": "(e)", "labels": false, "ticks": false, "domain": false, "titleAngle": 0, "titleX": -74, "titleY": 781, "titleAlign": "left", "titleBaseline": "alphabetic", "titleFont": "Liberation Serif", "titleFontSize": 20, "titleFontWeight": "normal", "titleColor": "#000"}},
  "text": {"field": "star"}
 }}
]
}
